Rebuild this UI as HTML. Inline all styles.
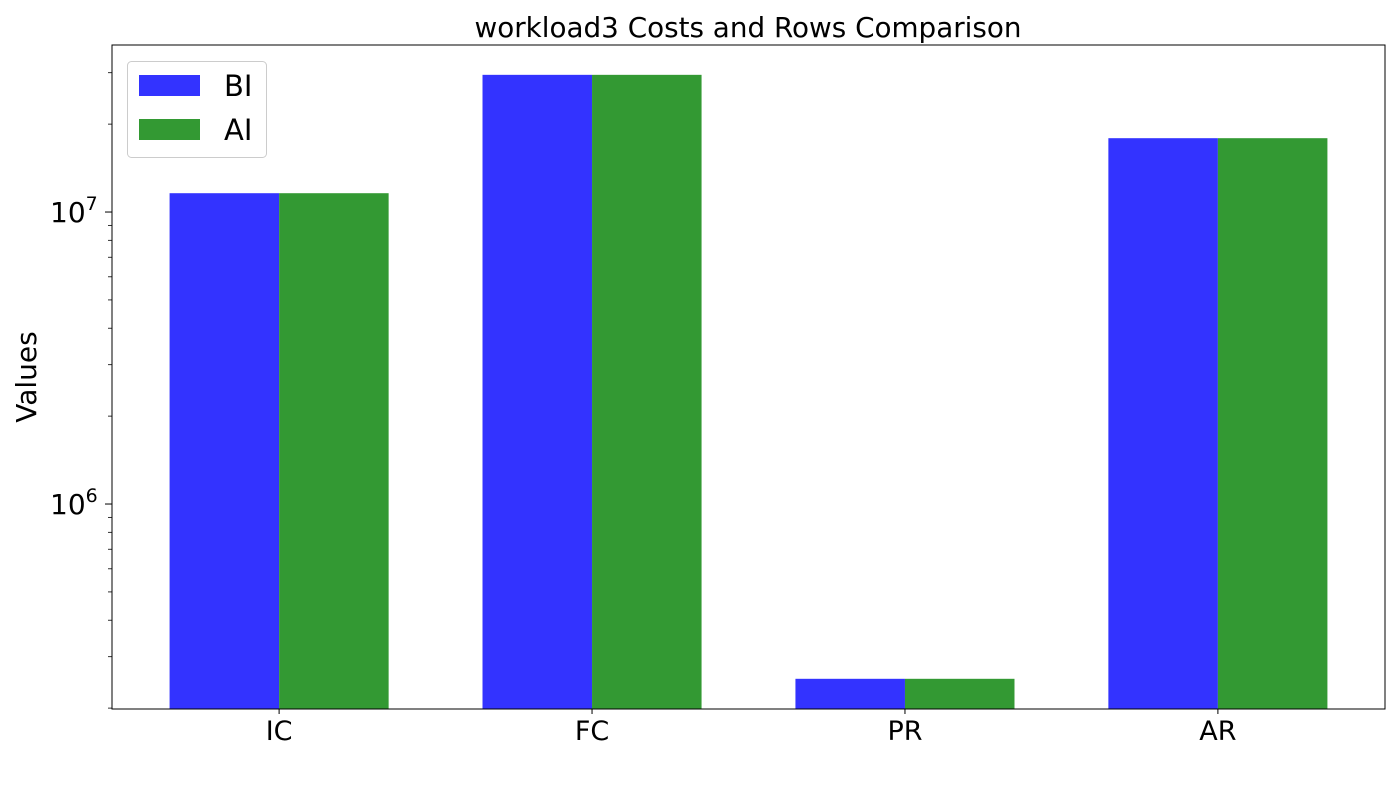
<!DOCTYPE html>
<html><head><meta charset="utf-8"><style>
body{margin:0;background:#fff;}
svg{display:block;font-family:"DejaVu Sans","Liberation Sans",sans-serif;}
</style></head><body>
<svg id="chart" width="1400" height="800" viewBox="0 0 1400 800">
<rect x="0" y="0" width="1400" height="800" fill="#fff"/>
<text x="748" y="37" font-size="27.8" text-anchor="middle">workload3 Costs and Rows Comparison</text>
<text transform="translate(36,377) rotate(-90)" font-size="28" text-anchor="middle">Values</text>
<g id="bars"></g>
<g id="axes"></g>
<rect x="112" y="45" width="1273" height="664" fill="none" stroke="#000" stroke-width="1"/>
<g>
<rect x="127.5" y="61.5" width="139" height="96" rx="4" fill="#fff" stroke="#ccc"/>
<rect x="139" y="75" width="61" height="21" fill="#3333ff"/>
<text x="224" y="96" font-size="29">BI</text>
<rect x="139" y="119" width="61" height="21" fill="#339933"/>
<text x="224" y="140" font-size="29">AI</text>
</g>
</svg>
<script>
const categories = ["IC", "FC", "PR", "AR"];
const biValues = [11600000, 29500000, 252000, 17900000];
const aiValues = [11600000, 29500000, 252000, 17900000];
const majorTicks = [1e6, 1e7];
const majorTickLabels = ["6", "7"];

const NS = "http://www.w3.org/2000/svg";
const plotL = 112, plotR = 1385, plotT = 45, plotB = 709;
const xMin = -0.534, xMax = 3.534;
const yLogMin = 5.298, yLogMax = 7.572;
function xs(v){ return plotL + (v - xMin) / (xMax - xMin) * (plotR - plotL); }
function ys(v){ return plotB - (Math.log10(v) - yLogMin) / (yLogMax - yLogMin) * (plotB - plotT); }
const barW = 0.35;
const barsG = document.getElementById("bars");
const axesG = document.getElementById("axes");
function mk(tag, attrs, parent){
  const e = document.createElementNS(NS, tag);
  for (const k in attrs) e.setAttribute(k, attrs[k]);
  parent.appendChild(e);
  return e;
}
categories.forEach((c, i) => {
  const series = [[biValues[i], "#3333ff", -barW, "bi"], [aiValues[i], "#339933", 0, "ai"]];
  series.forEach(s => {
    const x0 = xs(i + s[2]), x1 = xs(i + s[2] + barW);
    const y = ys(s[0]);
    const r = mk("rect", {x: x0, y: y, width: x1 - x0, height: plotB - y, fill: s[1]}, barsG);
    
    
  });
  const tx = xs(i);
  const t = mk("line", {x1: tx, x2: tx, y1: plotB, y2: plotB + 5, stroke: "#000"}, axesG);
  
  
  const lbl = mk("text", {x: tx, y: plotB + 31, "font-size": 27, "text-anchor": "middle"}, axesG);
  lbl.textContent = c;
  
  
});
for (let d = 5; d <= 7; d++) {
  for (let m = 2; m <= 9; m++) {
    const v = m * Math.pow(10, d);
    const lv = Math.log10(v);
    if (lv < yLogMin || lv > yLogMax) continue;
    const y = ys(v);
    const t = mk("line", {x1: plotL - 4, x2: plotL, y1: y, y2: y, stroke: "#000", "stroke-width": 0.8}, axesG);
    
    
  }
}
majorTicks.forEach((v, i) => {
  const y = ys(v);
  const t = mk("line", {x1: plotL - 7, x2: plotL, y1: y, y2: y, stroke: "#000"}, axesG);
  
  
  const lbl = mk("text", {x: 50, y: y + 10, "font-size": 28}, axesG);
  lbl.textContent = "10";
  const sup = mk("tspan", {dy: -12, "font-size": 19}, lbl);
  sup.textContent = majorTickLabels[i];
  
  
});
</script>
</body></html>
